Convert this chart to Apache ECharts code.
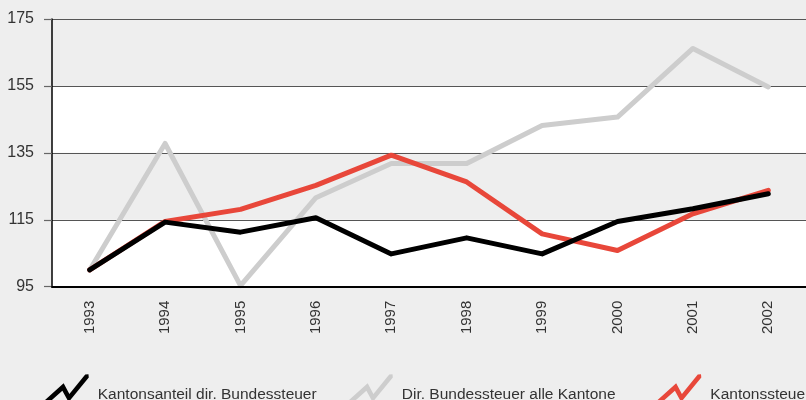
<!DOCTYPE html>
<html>
<head>
<meta charset="utf-8">
<script src="https://cdn.jsdelivr.net/npm/echarts@6/dist/echarts.min.js"></script>
<style>
html,body{margin:0;padding:0;background:#eeeeee;}
#chart{width:806px;height:400px;}
</style>
</head>
<body>
<div id="chart"></div>
<script>
const years = ['1993','1994','1995','1996','1997','1998','1999','2000','2001','2002'];
const kantonsanteil = [100, 114.3, 111.3, 115.6, 104.8, 109.6, 104.8, 114.5, 118.3, 122.8];
const bundessteuerKantone = [100, 137.8, 95.3, 121.6, 131.8, 131.8, 143.2, 145.7, 166.2, 154.7];
const kantonssteuern = [100, 114.5, 118.1, 125.3, 134.3, 126.3, 110.8, 105.8, 116.8, 123.8];
const yTicks = [95, 115, 135, 155, 175];
const names = ['Kantonsanteil dir. Bundessteuer', 'Dir. Bundessteuer alle Kantone', 'Kantonssteuern'];

const FONT = "'Liberation Sans', Arial, sans-serif";
const zig = 'path://M0 28.07L21.17 9.14L26.91 19.68L42.75 0.32L45.99 0L46.31 3.24L26.15 27.87L19.89 16.42L3.06 31.49Z';

// gray bands between every other pair of ticks (115-135, 155-175)
const bands = [];
for (let i = 1; i + 1 < yTicks.length; i += 2) {
  bands.push([{ yAxis: yTicks[i] }, { yAxis: yTicks[i + 1] }]);
}

function legendAt(name, left) {
  return {
    data: [name],
    left: left,
    top: 374.22,
    padding: 0,
    icon: zig,
    itemWidth: 46.31,
    itemHeight: 31.49,
    selectedMode: false,
    formatter: '{t|{name}}',
    textStyle: {
      fontFamily: FONT, fontSize: 15.5, color: '#333',
      rich: { t: { fontFamily: FONT, fontSize: 15.5, color: '#333', padding: [9, 0, 0, 4] } }
    }
  };
}

const chart = echarts.init(document.getElementById('chart'), null, { renderer: 'canvas' });
chart.setOption({
  backgroundColor: '#eeeeee',
  animation: false,
  grid: { left: 52, right: -5, top: 19, bottom: 113.3, containLabel: false,
          show: true, backgroundColor: '#ffffff', borderWidth: 0, z: 0 },
  xAxis: {
    type: 'category',
    data: years,
    boundaryGap: true,
    z: 10,
    axisLine: { lineStyle: { color: '#000', width: 2 } },
    axisTick: { alignWithLabel: true, length: 6, lineStyle: { color: '#333', width: 1 } },
    axisLabel: { rotate: 90, margin: 14, fontFamily: FONT, fontSize: 15, color: '#333' },
    splitLine: { show: false }
  },
  yAxis: {
    type: 'value',
    min: yTicks[0],
    max: yTicks[yTicks.length - 1],
    interval: yTicks[1] - yTicks[0],
    z: 2,
    axisLine: { show: true, lineStyle: { color: '#000', width: 1.5 } },
    axisTick: { show: true, length: 8, lineStyle: { color: '#666', width: 1.2 } },
    axisLabel: { margin: 18, fontFamily: FONT, fontSize: 16, color: '#333' },
    splitLine: { show: true, lineStyle: { color: '#555', width: 1.2 } },
    splitArea: { show: false }
  },
  legend: [
    legendAt(names[0], 42.47),
    legendAt(names[1], 346.5),
    legendAt(names[2], 655)
  ],
  series: [
    {
      name: 'bands', type: 'line', data: [], z: 1, silent: true,
      markArea: { silent: true, z: 1, itemStyle: { color: '#eeeeee' }, data: bands }
    },
    {
      name: names[1], type: 'line', data: bundessteuerKantone, showSymbol: false, symbol: 'none',
      color: '#cdcdcd',
      lineStyle: { color: '#cdcdcd', width: 5, cap: 'round', join: 'round' }, z: 3
    },
    {
      name: names[2], type: 'line', data: kantonssteuern, showSymbol: false, symbol: 'none',
      color: '#e8473a',
      lineStyle: { color: '#e8473a', width: 5, cap: 'round', join: 'round' }, z: 4
    },
    {
      name: names[0], type: 'line', data: kantonsanteil, showSymbol: false, symbol: 'none',
      color: '#000000',
      lineStyle: { color: '#000000', width: 5, cap: 'round', join: 'round' }, z: 5
    }
  ]
});
</script>
</body>
</html>
